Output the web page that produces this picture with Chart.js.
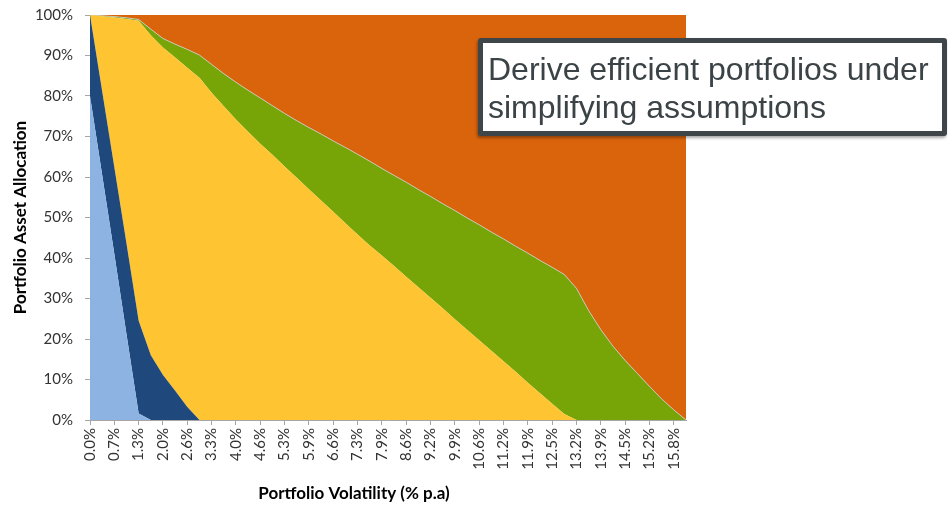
<!DOCTYPE html>
<html>
<head>
<meta charset="utf-8">
<script src="https://cdn.jsdelivr.net/npm/chart.js@4/dist/chart.umd.min.js"></script>
<style>
  html, body { margin: 0; padding: 0; background: #fff; overflow: hidden; }
  #wrap { position: relative; width: 948px; height: 505px; }
  #note {
    position: absolute; left: 478px; top: 38px;
    width: 454px; height: 81px;
    padding: 7px 0 0 5px;
    border: 5px solid #3E464A; border-radius: 3px;
    background: #fff;
    box-shadow: -1px 2px 3px rgba(0,0,0,0.35);
    font-family: "Liberation Sans", Arial, sans-serif;
    font-size: 32px; line-height: 38px; color: #3B4347;
    white-space: nowrap; overflow: hidden;
  }
</style>
</head>
<body>
<div id="wrap">
  <canvas id="chart" width="948" height="505"></canvas>
  <div id="note">Derive efficient portfolios under<br>simplifying assumptions</div>
</div>
<script>
// Portfolio volatility grid (% p.a), one step every 0.33%
const volatility = [
  "0.0%","0.3%","0.7%","1.0%","1.3%","1.6%","2.0%","2.3%","2.6%","3.0%",
  "3.3%","3.6%","4.0%","4.3%","4.6%","4.9%","5.3%","5.6%","5.9%","6.3%",
  "6.6%","6.9%","7.3%","7.6%","7.9%","8.2%","8.6%","8.9%","9.2%","9.6%",
  "9.9%","10.2%","10.6%","10.9%","11.2%","11.5%","11.9%","12.2%","12.5%","12.9%",
  "13.2%","13.5%","13.9%","14.2%","14.5%","14.8%","15.2%","15.5%","15.8%","16.2%"
];

// Allocation weights (%) of each asset band, bottom of the stack first
const band1 = [
  80, 60.5, 41.0, 21.2, 1.6, 0, 0, 0, 0, 0,
  0, 0, 0, 0, 0, 0, 0, 0, 0, 0,
  0, 0, 0, 0, 0, 0, 0, 0, 0, 0,
  0, 0, 0, 0, 0, 0, 0, 0, 0, 0,
  0, 0, 0, 0, 0, 0, 0, 0, 0, 0
];
const band2 = [
  20, 20.7, 21.4, 22.4, 22.9, 16.0, 11.1, 7.2, 3.2, 0,
  0, 0, 0, 0, 0, 0, 0, 0, 0, 0,
  0, 0, 0, 0, 0, 0, 0, 0, 0, 0,
  0, 0, 0, 0, 0, 0, 0, 0, 0, 0,
  0, 0, 0, 0, 0, 0, 0, 0, 0, 0
];
const band3 = [
  0, 18.5, 37.0, 55.4, 74.1, 79.0, 80.9, 82.3, 83.8, 84.5,
  80.8, 77.5, 74.2, 71.2, 68.2, 65.5, 62.6, 59.8, 57.0, 54.2,
  51.4, 48.6, 45.8, 43.1, 40.6, 38.0, 35.4, 32.8, 30.2, 27.6,
  24.9, 22.3, 19.7, 17.1, 14.5, 11.9, 9.2, 6.6, 4.0, 1.5,
  0, 0, 0, 0, 0, 0, 0, 0, 0, 0
];
const band4 = [
  0, 0.1, 0.2, 0.3, 0.3, 1.5, 2.2, 3.3, 4.5, 5.6,
  7.0, 8.0, 9.2, 10.2, 11.3, 12.1, 13.1, 14.1, 15.2, 16.4,
  17.5, 18.7, 19.8, 20.8, 21.5, 22.4, 23.3, 24.1, 25.0, 25.8,
  26.8, 27.6, 28.5, 29.3, 30.2, 31.0, 32.0, 32.8, 33.7, 34.4,
  32.5, 27.0, 22.3, 18.2, 14.7, 11.5, 8.3, 5.2, 2.5, 0
];
const band5 = [
  0, 0.2, 0.4, 0.7, 1.1, 3.5, 5.8, 7.2, 8.5, 9.9,
  12.2, 14.5, 16.6, 18.6, 20.5, 22.4, 24.3, 26.1, 27.8, 29.4,
  31.1, 32.7, 34.4, 36.1, 37.9, 39.6, 41.3, 43.1, 44.8, 46.6,
  48.3, 50.1, 51.8, 53.6, 55.3, 57.1, 58.8, 60.6, 62.3, 64.1,
  67.5, 73.0, 77.7, 81.8, 85.3, 88.5, 91.7, 94.8, 97.5, 100
];

const yTicks = [0, 10, 20, 30, 40, 50, 60, 70, 80, 90, 100];

const bands = [
  { data: band1, color: "#8DB3E2", line: "rgba(0,0,0,0)" },
  { data: band2, color: "#1F497D", line: "rgba(0,0,0,0)" },
  { data: band3, color: "#FEC431", line: "rgba(0,0,0,0)" },
  { data: band4, color: "#77A406", line: "rgba(205,205,200,0.85)" },
  { data: band5, color: "#DA640C", line: "rgba(0,0,0,0)" }
];

const tickFont = { family: "Lato, 'Open Sans', sans-serif", size: 15 };
const titleFont = { family: "Lato, 'Open Sans', sans-serif", size: 17, weight: "bold" };

// Horizontal axis caption, placed under the rotated tick labels
const xCaption = {
  id: "xCaption",
  afterDraw(chart) {
    const c = chart.ctx;
    c.save();
    c.font = "bold 17px Lato, 'Open Sans', sans-serif";
    c.fillStyle = "#000";
    c.textAlign = "center";
    c.textBaseline = "middle";
    c.fillText("Portfolio Volatility (% p.a)", 354, 494);
    c.restore();
  }
};

new Chart(document.getElementById("chart"), {
  type: "line",
  data: {
    labels: volatility,
    datasets: bands.map((b, i) => ({
      data: b.data,
      backgroundColor: b.color,
      borderColor: b.line,
      borderWidth: 1,
      fill: i === 0 ? "origin" : "-1",
      pointRadius: 0,
      tension: 0
    }))
  },
  options: {
    responsive: false,
    animation: false,
    layout: { padding: { top: 15, right: 262, bottom: 0, left: 0 } },
    plugins: { legend: { display: false }, tooltip: { enabled: false } },
    scales: {
      x: {
        offset: false,
        grid: {
          drawOnChartArea: false, drawTicks: true, tickLength: 5,
          color: (c) => (c.index % 2 === 0 ? "#A6A6A6" : "rgba(0,0,0,0)")
        },
        border: { color: "#A6A6A6" },
        ticks: {
          autoSkip: false, minRotation: 90, maxRotation: 90, padding: 3,
          font: tickFont, color: "#333",
          callback: (v, i) => (i % 2 === 0 ? volatility[i] : "")
        },
        afterFit: (s) => { s.height = 85; }
      },
      y: {
        stacked: true, min: 0, max: 100,
        afterBuildTicks: (s) => { s.ticks = yTicks.map((v) => ({ value: v })); },
        grid: { drawOnChartArea: false, tickLength: 5, color: "#A6A6A6" },
        border: { color: "#A6A6A6" },
        ticks: { padding: 12, font: tickFont, color: "#333", callback: (v) => v + "%" },
        title: {
          display: true, text: "Portfolio Asset Allocation",
          font: titleFont, color: "#000", padding: { top: 10 }
        },
        afterFit: (s) => { s.width = 90; s.paddingTop = 0; s.paddingBottom = 0; }
      }
    }
  },
  plugins: [xCaption]
});
</script>
</body>
</html>
